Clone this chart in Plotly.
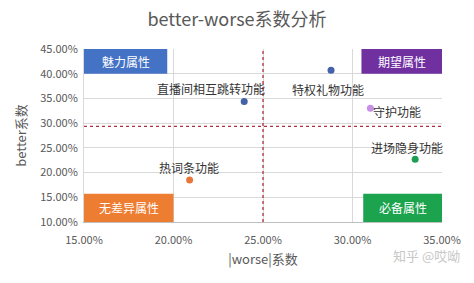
import plotly.graph_objects as go

features = ["直播间相互跳转功能", "特权礼物功能", "守护功能", "进场隐身功能", "热词条功能"]
worse = [0.2395, 0.2880, 0.3100, 0.3350, 0.2090]
better = [0.3440, 0.4070, 0.3300, 0.2270, 0.1850]
colors = ["#4462a8", "#4462a8", "#c790e6", "#1e9e55", "#e8763a"]
label_shift = [(-33, 13), (-3, -19), (27, -3), (-8, 12), (-1, 12)]

x_ticks = [0.15, 0.20, 0.25, 0.30, 0.35]
y_ticks = [0.10, 0.15, 0.20, 0.25, 0.30, 0.35, 0.40, 0.45]
x_avg = 0.25
y_avg = 0.2935

quadrants = ["魅力属性", "期望属性", "无差异属性", "必备属性"]
quad_x0 = [0.15, 0.305, 0.15, 0.306]
quad_x1 = [0.1965, 0.35, 0.20, 0.35]
quad_y0 = [0.40, 0.40, 0.10, 0.10]
quad_y1 = [0.45, 0.45, 0.157, 0.157]
quad_colors = ["#4472c4", "#7030a0", "#ed7d31", "#1ba34e"]

font = "Noto Sans CJK SC"
fig = go.Figure()
fig.add_trace(go.Scatter(x=worse, y=better, mode="markers",
                         marker=dict(color=colors, size=7), showlegend=False,
                         cliponaxis=False))

shapes = []
annotations = []
for q, x0, x1, y0, y1, c in zip(quadrants, quad_x0, quad_x1, quad_y0, quad_y1, quad_colors):
    shapes.append(dict(type="rect", xref="x", yref="y", x0=x0, x1=x1, y0=y0, y1=y1,
                       fillcolor=c, line=dict(width=0), layer="above"))
    annotations.append(dict(x=(x0 + x1) / 2, y=(y0 + y1) / 2, xref="x", yref="y",
                            text=q, showarrow=False,
                            font=dict(family=font, size=12, color="white")))
shapes.append(dict(type="line", xref="x", yref="y", x0=x_avg, x1=x_avg, y0=0.10, y1=0.45,
                   line=dict(color="#b03040", width=1.3, dash="dot")))
shapes.append(dict(type="line", xref="x", yref="y", x0=0.15, x1=0.35, y0=y_avg, y1=y_avg,
                   line=dict(color="#b03040", width=1.3, dash="dot")))

for f, x, y, (dx, dy) in zip(features, worse, better, label_shift):
    annotations.append(dict(x=x, y=y, xref="x", yref="y", text=f, showarrow=False,
                            xshift=dx, yshift=dy,
                            font=dict(family=font, size=12, color="#333333")))

annotations.append(dict(x=1.0, y=0, xref="paper", yref="paper", yshift=-45, xshift=20,
                        text="知乎 @哎呦", showarrow=False, xanchor="right",
                        font=dict(family=font, size=13, color="#c8c8c8")))

fig.update_layout(
    width=474, height=283,
    margin=dict(l=84, r=32, t=49, b=61),
    paper_bgcolor="white", plot_bgcolor="white",
    title=dict(text="better-worse系数分析", x=0.5, xanchor="center", y=0.93, yanchor="middle",
               font=dict(family=font, size=18, color="#595959")),
    xaxis=dict(range=[0.15, 0.35], tickvals=x_ticks, tickformat=".2%",
               showgrid=True, gridcolor="#d9d9d9", showline=True, linecolor="#bfbfbf",
               zeroline=False, ticks="", ticklabelstandoff=8,
               tickfont=dict(family=font, size=11, color="#595959"),
               title=dict(text="|worse|系数", standoff=8,
                          font=dict(family=font, size=13, color="#595959"))),
    yaxis=dict(range=[0.10, 0.45], tickvals=y_ticks, tickformat=".2%",
               showgrid=True, gridcolor="#d9d9d9", showline=True, linecolor="#d9d9d9",
               zeroline=False, ticks="", ticklabelstandoff=3,
               tickfont=dict(family=font, size=11, color="#595959"),
               title=dict(text="better系数", standoff=10,
                          font=dict(family=font, size=13, color="#595959"))),
    shapes=shapes, annotations=annotations,
)

fig.write_html("out.html")
